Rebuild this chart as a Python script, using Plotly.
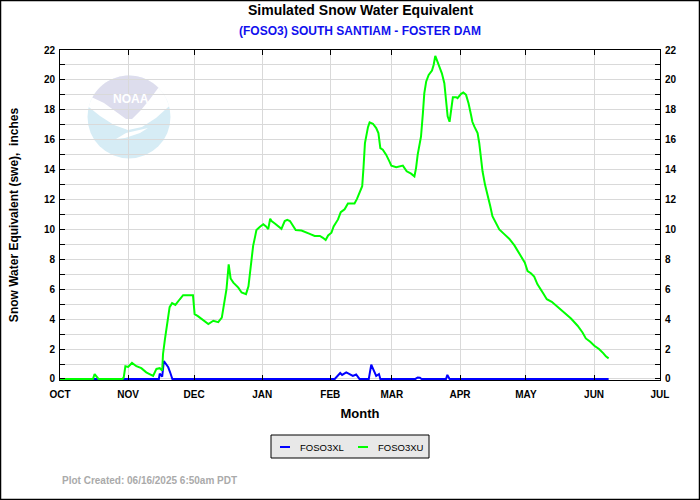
import math
import plotly.graph_objs as go

# FOSO3XU (upper) simulated SWE, inches
xu_dates = [
    "2024-10-01", "2024-10-16 00:00", "2024-10-16 18:00", "2024-10-17 18:00", "2024-10-18 12:00",
    "2024-10-29 12:00", "2024-10-30 00:00", "2024-10-30 18:00", "2024-11-01 00:00", "2024-11-02 18:00",
    "2024-11-04 18:00", "2024-11-07 00:00", "2024-11-09 06:00", "2024-11-10 18:00", "2024-11-12 09:00",
    "2024-11-13 21:00", "2024-11-15 09:00", "2024-11-16 12:00", "2024-11-16 21:00", "2024-11-17 18:00",
    "2024-11-19 06:00", "2024-11-19 21:00", "2024-11-21 00:00", "2024-11-22 12:00", "2024-11-24 12:00",
    "2024-11-26 00:00", "2024-11-30 12:00", "2024-12-01 06:00", "2024-12-02 18:00", "2024-12-07 12:00",
    "2024-12-09 18:00", "2024-12-12 00:00", "2024-12-13 15:00", "2024-12-14 15:00", "2024-12-15 18:00",
    "2024-12-16 18:00", "2024-12-17 03:00", "2024-12-17 15:00", "2024-12-18 21:00", "2024-12-21 03:00",
    "2024-12-22 15:00", "2024-12-24 15:00", "2024-12-25 18:00", "2024-12-26 09:00", "2024-12-27 06:00",
    "2024-12-27 21:00", "2024-12-28 18:00", "2024-12-29 09:00", "2024-12-31 00:00", "2025-01-01 12:00",
    "2025-01-02 18:00", "2025-01-03 18:00", "2025-01-04 15:00", "2025-01-05 06:00", "2025-01-06 18:00",
    "2025-01-08 18:00", "2025-01-09 18:00", "2025-01-11 06:00", "2025-01-12 09:00", "2025-01-13 15:00",
    "2025-01-15 03:00", "2025-01-16 06:00", "2025-01-18 21:00", "2025-01-20 09:00", "2025-01-22 15:00",
    "2025-01-24 21:00", "2025-01-27 06:00", "2025-01-28 15:00", "2025-01-29 21:00", "2025-01-31 00:00",
    "2025-02-01 12:00", "2025-02-02 12:00", "2025-02-03 18:00", "2025-02-04 12:00", "2025-02-05 18:00",
    "2025-02-07 12:00", "2025-02-09 00:00", "2025-02-12 00:00", "2025-02-13 03:00", "2025-02-14 06:00",
    "2025-02-15 12:00", "2025-02-16 03:00", "2025-02-16 18:00", "2025-02-18 03:00", "2025-02-18 21:00",
    "2025-02-20 09:00", "2025-02-21 21:00", "2025-02-22 21:00", "2025-02-23 18:00", "2025-02-24 21:00",
    "2025-02-26 09:00", "2025-02-27 21:00", "2025-02-28 18:00", "2025-03-03 00:00", "2025-03-04 12:00",
    "2025-03-06 00:00", "2025-03-07 18:00", "2025-03-09 18:00", "2025-03-11 06:00", "2025-03-12 00:00",
    "2025-03-12 18:00", "2025-03-13 12:00", "2025-03-14 06:00", "2025-03-15 03:00", "2025-03-15 18:00",
    "2025-03-16 15:00", "2025-03-17 18:00", "2025-03-19 06:00", "2025-03-20 00:00", "2025-03-20 18:00",
    "2025-03-21 09:00", "2025-03-22 15:00", "2025-03-23 18:00", "2025-03-24 21:00", "2025-03-25 15:00",
    "2025-03-26 09:00", "2025-03-27 06:00", "2025-03-27 21:00", "2025-03-28 18:00", "2025-03-30 06:00",
    "2025-03-30 21:00", "2025-04-01 12:00", "2025-04-02 12:00", "2025-04-03 18:00", "2025-04-04 21:00",
    "2025-04-06 00:00", "2025-04-06 15:00", "2025-04-07 12:00", "2025-04-09 00:00", "2025-04-09 18:00",
    "2025-04-10 12:00", "2025-04-11 06:00", "2025-04-12 09:00", "2025-04-13 15:00", "2025-04-14 18:00",
    "2025-04-15 18:00", "2025-04-17 09:00", "2025-04-18 21:00", "2025-04-21 06:00", "2025-04-23 09:00",
    "2025-04-25 18:00", "2025-04-27 06:00", "2025-04-29 00:00", "2025-04-30 12:00", "2025-05-01 18:00",
    "2025-05-03 06:00", "2025-05-04 18:00", "2025-05-06 06:00", "2025-05-08 15:00", "2025-05-10 12:00",
    "2025-05-12 18:00", "2025-05-15 09:00", "2025-05-18 09:00", "2025-05-21 12:00", "2025-05-24 12:00",
    "2025-05-26 18:00", "2025-05-28 06:00", "2025-05-30 06:00", "2025-06-01 03:00", "2025-06-03 06:00",
    "2025-06-05 06:00", "2025-06-06 09:00", "2025-06-07 15:00",
]
xu_swe = [
    0, 0, 0.33, 0.1, 0,
    0, 0.1, 0.85, 0.8, 1.07,
    0.85, 0.72, 0.44, 0.33, 0.2,
    0.67, 0.72, 0.56, 1.67, 2.67,
    4.2, 4.8, 5.07, 4.95, 5.33,
    5.6, 5.6, 4.33, 4.2, 3.67,
    3.89, 3.8, 4.1, 4.9, 6.0,
    7.67, 7.33, 6.72, 6.44, 6.11,
    5.78, 5.67, 6.2, 7.1, 8.0,
    8.9, 9.5, 9.96, 10.18, 10.35,
    10.2, 10.02, 10.72, 10.56, 10.4,
    10.2, 10.04, 10.56, 10.64, 10.56,
    10.2, 9.96, 9.93, 9.82, 9.7,
    9.56, 9.56, 9.44, 9.29, 9.6,
    9.78, 10.2, 10.5, 10.67, 11.15,
    11.35, 11.73, 11.73, 12.04, 12.44,
    12.89, 14.2, 15.78, 16.84, 17.16,
    17.07, 16.78, 16.44, 15.44, 15.33,
    15.0, 14.55, 14.27, 14.16, 14.2,
    14.27, 13.89, 13.73, 13.55, 14.1,
    15.0, 15.67, 16.2, 17.78, 19.1,
    19.9, 20.33, 20.62, 21.0, 21.6,
    21.33, 20.93, 20.44, 19.78, 18.78,
    17.56, 17.2, 18.0, 18.84, 18.84,
    18.78, 19.07, 19.16, 19.0, 18.44,
    17.67, 17.2, 16.89, 16.44, 15.78,
    14.89, 13.89, 13.0, 12.33, 11.56,
    10.89, 10.4, 10.0, 9.67, 9.38,
    8.93, 8.56, 8.22, 7.78, 7.22,
    7.07, 6.84, 6.33, 5.78, 5.33,
    5.16, 4.84, 4.44, 4.04, 3.56,
    3.11, 2.71, 2.49, 2.22, 2.0,
    1.71, 1.51, 1.38,
]

# FOSO3XL (lower) simulated SWE, inches
xl_dates = [
    "2024-10-01", "2024-11-15 00:00", "2024-11-15 09:00", "2024-11-16 00:00", "2024-11-16 12:00",
    "2024-11-17 06:00", "2024-11-18 06:00", "2024-11-19 06:00", "2024-11-20 06:00", "2024-11-21 03:00",
    "2025-02-03 00:00", "2025-02-04 12:00", "2025-02-05 12:00", "2025-02-06 09:00", "2025-02-08 06:00",
    "2025-02-09 18:00", "2025-02-11 06:00", "2025-02-12 18:00", "2025-02-14 06:00", "2025-02-18 12:00",
    "2025-02-19 15:00", "2025-02-20 18:00", "2025-02-21 21:00", "2025-02-23 03:00", "2025-02-23 18:00",
    "2025-03-11 18:00", "2025-03-12 18:00", "2025-03-13 18:00", "2025-03-14 12:00", "2025-03-25 15:00",
    "2025-03-26 06:00", "2025-03-27 06:00", "2025-06-07 15:00",
]
xl_swe = [
    0, 0, 0.35, 0.2, 0.15,
    1.2, 1.0, 0.78, 0.38, 0,
    0, 0.22, 0.4, 0.27, 0.44,
    0.33, 0.2, 0.3, 0, 0,
    0.96, 0.58, 0.2, 0.33, 0,
    0, 0.1, 0.08, 0, 0,
    0.27, 0, 0,
]

month_ticks = ["2024-10-01", "2024-11-01", "2024-12-01", "2025-01-01", "2025-02-01",
               "2025-03-01", "2025-04-01", "2025-05-01", "2025-06-01", "2025-07-01"]
month_labels = ["OCT", "NOV", "DEC", "JAN", "FEB", "MAR", "APR", "MAY", "JUN", "JUL"]

series_names = ["FOSO3XL", "FOSO3XU"]
series_colors = ["#0000ff", "#00ff00"]

NARROW = "Liberation Sans Narrow, Arial Narrow, Liberation Sans, Arial"
SANS = "Liberation Sans, Arial, sans-serif"
GRID = "#d9d9d9"


# helpers to place decorations by pixel position (plot area: x 60..660, y 50..380)
def px(x):
    return (x - 60) / 600.0


def py(y):
    return (380 - y) / 330.0


def path(points):
    return "M " + " L ".join(f"{px(a):.4f},{py(b):.4f}" for a, b in points) + " Z"


def arc(cx, cy, r, a0, a1, n=24):
    # screen-pixel points along a circle, angles in degrees (counter-clockwise, y up)
    pts = []
    for i in range(n + 1):
        a = math.radians(a0 + (a1 - a0) * i / n)
        pts.append((cx + r * math.cos(a), cy - r * math.sin(a)))
    return pts


fig = go.Figure()

fig.add_trace(go.Scatter(x=xl_dates, y=xl_swe, mode="lines", name=series_names[0],
                         line=dict(color=series_colors[0], width=2)))
fig.add_trace(go.Scatter(x=xu_dates, y=xu_swe, mode="lines", name=series_names[1],
                         line=dict(color=series_colors[1], width=2)))
# invisible trace so the right-hand axis is drawn
fig.add_trace(go.Scatter(x=[month_ticks[0]], y=[0], yaxis="y2", mode="lines",
                         hoverinfo="skip", line=dict(width=0)))

axis_font = dict(family=NARROW, size=10, color="black", weight="bold")

fig.update_layout(
    template="none",
    width=700, height=500,
    margin=dict(l=60, r=40, t=50, b=120),
    paper_bgcolor="white", plot_bgcolor="white",
    showlegend=False,
    xaxis=dict(
        type="date", range=["2024-10-01", "2025-07-01"],
        tickvals=month_ticks, ticktext=month_labels, tickfont=axis_font,
        ticks="inside", ticklen=5, tickcolor="black", ticklabelstandoff=5,
        showgrid=True, gridcolor=GRID, gridwidth=1, zeroline=False,
        showline=True, linecolor="black", linewidth=1, mirror="ticks",
        title=dict(text="Month", font=dict(family=SANS, size=13, color="black", weight="bold"),
                   standoff=9),
        automargin=False,
    ),
    yaxis=dict(
        range=[-0.07, 22], dtick=2, tick0=0, tickfont=axis_font,
        ticks="inside", ticklen=5, tickcolor="black", ticklabelstandoff=2,
        minor=dict(dtick=1, ticks="inside", ticklen=5, tickcolor="black",
                   showgrid=True, gridcolor=GRID),
        showgrid=True, gridcolor=GRID, zeroline=False,
        showline=True, linecolor="black", linewidth=1, mirror=True,
        title=dict(text="Snow Water Equivalent (swe),  inches",
                   font=dict(family=SANS, size=12, color="black", weight="bold"), standoff=22),
        automargin=False,
    ),
    yaxis2=dict(
        overlaying="y", side="right", range=[-0.07, 22], dtick=2, tick0=0, tickfont=axis_font,
        ticks="inside", ticklen=5, tickcolor="black", ticklabelstandoff=4,
        minor=dict(dtick=1, ticks="inside", ticklen=5, tickcolor="black", showgrid=False),
        showgrid=False, zeroline=False, showline=False, automargin=False,
    ),
)

# faint NOAA emblem behind the grid
cx, cy, r = 129, 117, 41.5
fig.add_shape(type="circle", xref="paper", yref="paper", layer="below",
              x0=px(cx - r), x1=px(cx + r), y0=py(cy + r), y1=py(cy - r),
              fillcolor="#d6ecf5", line=dict(width=0))
fig.add_shape(type="path", xref="paper", yref="paper", layer="below",
              path=path(arc(cx, cy, r, 15, 166) +
                        [(100, 116), (114, 125), (128, 130), (142, 127), (156, 118)]),
              fillcolor="white", line=dict(width=0))
fig.add_shape(type="path", xref="paper", yref="paper", layer="below",
              path=path(arc(cx, cy, r, 45, 152) +
                        [(104, 103), (115, 111), (126, 119), (132, 119), (141, 110), (150, 99)]),
              fillcolor="#dddded", line=dict(width=0))
fig.add_shape(type="path", xref="paper", yref="paper", layer="below",
              path=path([(116, 139), (126, 133), (148, 128), (140, 133), (125, 138)]),
              fillcolor="white", line=dict(width=0))
fig.add_annotation(x=px(130.5), y=py(99), xref="paper", yref="paper", text="<b>NOAA</b>",
                   xanchor="center", yanchor="middle", showarrow=False,
                   font=dict(family=NARROW, size=12, color="white"))

# titles
fig.add_annotation(x=0.5, y=py(10), xref="paper", yref="paper", showarrow=False,
                   xanchor="center", yanchor="middle",
                   text="<b>Simulated Snow Water Equivalent</b>",
                   font=dict(family=SANS, size=14, color="black"))
fig.add_annotation(x=0.5, y=py(31), xref="paper", yref="paper", showarrow=False,
                   xanchor="center", yanchor="middle",
                   text="<b>(FOSO3) SOUTH SANTIAM - FOSTER DAM</b>",
                   font=dict(family=SANS, size=12, color="#1010ee"))
fig.add_annotation(x=0, y=py(480), xref="paper", yref="paper", xanchor="left", yanchor="middle",
                   showarrow=False, text="<b>Plot Created: 06/16/2025 6:50am PDT</b>",
                   font=dict(family=NARROW, size=10, color="#aaaaaa"))

# legend box
fig.add_shape(type="rect", xref="paper", yref="paper",
              x0=px(271), x1=px(429), y0=py(458), y1=py(435),
              fillcolor="#e8e8e8", line=dict(color="black", width=1))
for name, color, x_dash in zip(series_names, series_colors, [280, 358]):
    fig.add_shape(type="line", xref="paper", yref="paper",
                  x0=px(x_dash), x1=px(x_dash + 10), y0=py(447), y1=py(447),
                  line=dict(color=color, width=2))
    fig.add_annotation(x=px(x_dash + 18), y=py(447), xref="paper", yref="paper",
                       xanchor="left", yanchor="middle", showarrow=False, text=name,
                       font=dict(family=NARROW, size=9.5, color="black"))

# outer frame
fig.add_shape(type="rect", xref="paper", yref="paper",
              x0=px(0.5), x1=px(699.5), y0=py(499.5), y1=py(0.5),
              line=dict(color="black", width=1.5), fillcolor="rgba(0,0,0,0)")

fig.write_html("out.html", config={"displayModeBar": False},
               post_script="document.body.style.margin='0';document.body.style.overflow='hidden';")
